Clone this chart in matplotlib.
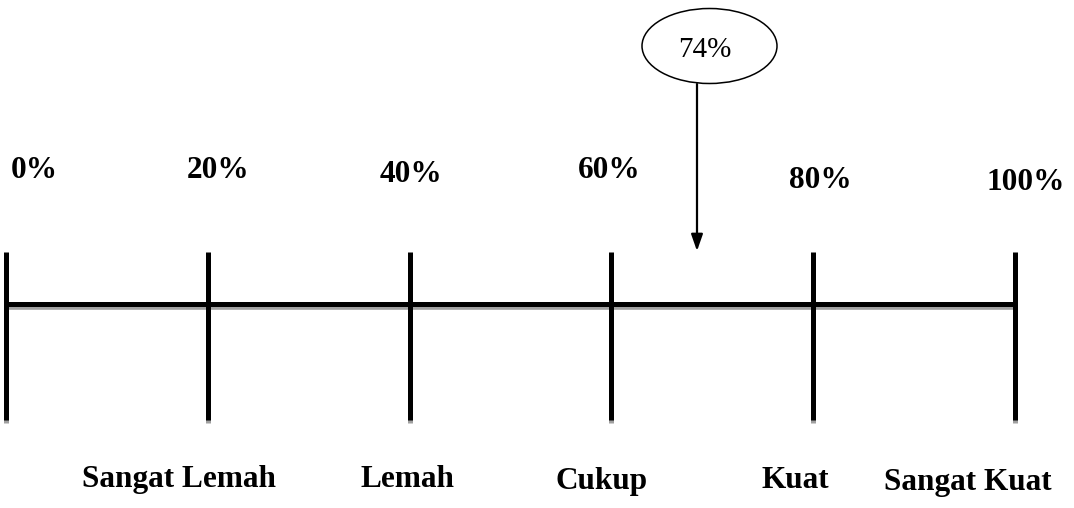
import matplotlib.pyplot as plt
from matplotlib.patches import Ellipse

# Skala persentase dan kategori
ticks = [0, 20, 40, 60, 80, 100]
tick_labels = ["0%", "20%", "40%", "60%", "80%", "100%"]
categories = ["Sangat Lemah", "Lemah", "Cukup", "Kuat", "Sangat Kuat"]
category_ticks = [20, 40, 60, 80, 100]
result_label = "74%"

# Tata letak (piksel)
ppu = 10.093          # piksel per satuan persen
x0_px = 5.9           # posisi 0% dalam piksel
top_dx = [28, 10, 1, -2, 7, 10]
top_base = [178, 178, 182, 178, 188, 190]
bot_dx = [-29, -2, -10, -18, -47]
bot_base = [487, 487, 489, 488, 490]
arrow_px = 697

fig = plt.figure(figsize=(10.74, 5.08), dpi=100)
ax = fig.add_axes([0, 0, 1, 1])
ax.set_xlim(-x0_px / ppu, (1074 - x0_px) / ppu)
ax.set_ylim(508, 0)
ax.axis("off")

font = dict(family="Liberation Serif", fontsize=22.5, fontweight="bold")

# Garis utama dengan bayangan
ax.plot([ticks[0], ticks[-1]], [308, 308], color="#a0a0a0", lw=2.6,
        solid_capstyle="butt")
ax.plot([ticks[0], ticks[-1]], [304, 304], color="black", lw=3.6,
        solid_capstyle="butt")
for t in ticks:
    ax.plot([t, t], [255, 423], color="#a0a0a0", lw=3.6, solid_capstyle="butt")
    ax.plot([t, t], [252, 420], color="black", lw=3.6, solid_capstyle="butt")

for t, lab, dx, yb in zip(ticks, tick_labels, top_dx, top_base):
    ax.text(t + dx / ppu, yb, lab, ha="center", va="baseline", **font)

for t, lab, dx, yb in zip(category_ticks, categories, bot_dx, bot_base):
    ax.text(t + dx / ppu, yb, lab, ha="center", va="baseline", **font)

# Penanda hasil
ex = (709.5 - x0_px) / ppu
ax.add_patch(Ellipse((ex, 46), 135 / ppu, 75, facecolor="white",
                     edgecolor="black", lw=1.1))
ax.text((705 - x0_px) / ppu, 57, result_label, ha="center", va="baseline",
        family="Liberation Serif", fontsize=21)
ax_x = (arrow_px - x0_px) / ppu
ax.annotate("", xy=(ax_x, 251), xytext=(ax_x, 84),
            arrowprops=dict(arrowstyle="-|>,head_length=1.0,head_width=0.35",
                            color="black", lw=1.6, shrinkA=0, shrinkB=0))

fig.savefig("out.png", dpi=100)
